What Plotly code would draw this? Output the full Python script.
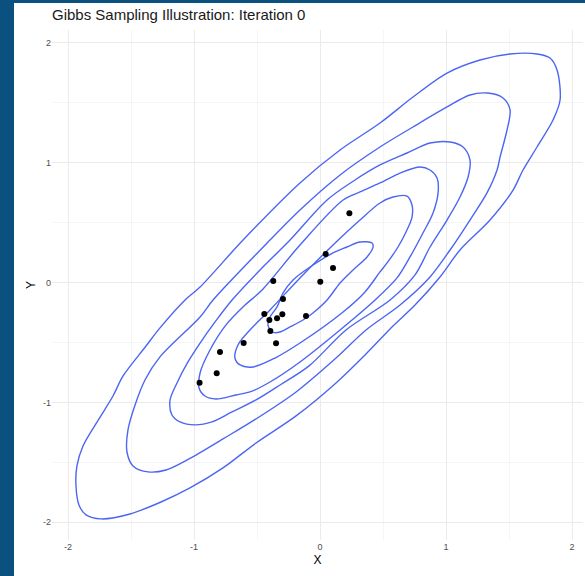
import plotly.graph_objects as go

# ---- data ----
pts_x = [0.233, 0.045, 0.103, -0.371, 0.002, -0.294, -0.442, -0.299, -0.341, -0.402,
         -0.111, -0.394, -0.606, -0.349, -0.794, -0.820, -0.956]
pts_y = [0.577, 0.238, 0.121, 0.013, 0.007, -0.138, -0.263, -0.265, -0.299, -0.313,
         -0.279, -0.405, -0.505, -0.507, -0.580, -0.757, -0.836]

c1_x = [0.476, 0.738, 1.008, 1.270, 1.508, 1.722, 1.825, 1.881, 1.905, 1.849, 1.722, 1.611, 1.532, 1.349, 1.111,
        0.952, 0.754, 0.579, 0.357, 0.127, -0.190, -0.508, -0.770, -1.032, -1.262, -1.508, -1.738, -1.857, -1.913,
        -1.937, -1.929, -1.881, -1.754, -1.643, -1.563, -1.381, -1.270, -1.071, -0.952, -0.611, -0.159, 0.159, 0.476]
c1_y = [1.330, 1.547, 1.747, 1.856, 1.906, 1.906, 1.872, 1.772, 1.522, 1.355, 1.130, 0.938, 0.771, 0.521, 0.271,
        0.046, -0.188, -0.363, -0.605, -0.838, -1.113, -1.339, -1.547, -1.714, -1.831, -1.931, -1.972, -1.939, -1.856,
        -1.689, -1.530, -1.364, -1.138, -0.947, -0.780, -0.530, -0.379, -0.146, -0.038, 0.354, 0.830, 1.105, 1.330]

c2_x = [0.476, 0.738, 1.008, 1.190, 1.333, 1.452, 1.508, 1.484, 1.429, 1.405, 1.325, 1.190, 1.032, 0.873, 0.635,
        0.365, 0.127, -0.190, -0.508, -0.770, -1.040, -1.222, -1.365, -1.484, -1.532, -1.524, -1.468, -1.389, -1.270,
        -0.952, -0.849, -0.397, -0.159, 0.159, 0.476]
c2_y = [1.130, 1.297, 1.464, 1.564, 1.580, 1.539, 1.439, 1.272, 1.047, 0.938, 0.747, 0.521, 0.271, 0.046, -0.188,
        -0.396, -0.630, -0.913, -1.138, -1.305, -1.472, -1.564, -1.580, -1.530, -1.414, -1.230, -1.022, -0.813, -0.621,
        -0.288, -0.146, 0.354, 0.605, 0.897, 1.130]

c3_x = [0.476, 0.690, 0.873, 1.032, 1.135, 1.190, 1.175, 1.111, 1.008, 0.873, 0.754, 0.556, 0.206, -0.087, -0.317,
        -0.508, -0.698, -0.857, -0.992, -1.111, -1.175, -1.190, -1.135, -1.048, -0.952, -0.833, -0.698, -0.476, -0.238,
        0.056, 0.278, 0.476]
c3_y = [0.980, 1.080, 1.163, 1.172, 1.130, 1.022, 0.880, 0.713, 0.521, 0.296, 0.063, -0.146, -0.396, -0.696, -0.855,
        -0.980, -1.080, -1.163, -1.188, -1.163, -1.105, -0.980, -0.838, -0.663, -0.505, -0.329, -0.146, 0.104, 0.354,
        0.688, 0.855, 0.980]

c4_x = [0.476, 0.635, 0.794, 0.873, 0.929, 0.937, 0.897, 0.817, 0.714, 0.611, 0.437, 0.159, -0.159, -0.397, -0.556,
        -0.667, -0.825, -0.913, -0.960, -0.952, -0.873, -0.746, -0.595, -0.460, -0.159, 0.183, 0.317, 0.476]
c4_y = [0.830, 0.913, 0.963, 0.938, 0.872, 0.747, 0.580, 0.413, 0.213, 0.038, -0.146, -0.396, -0.663, -0.830, -0.913,
        -0.938, -0.972, -0.947, -0.880, -0.755, -0.563, -0.354, -0.188, -0.063, 0.313, 0.688, 0.755, 0.830]

c5_x = [0.476, 0.579, 0.690, 0.730, 0.730, 0.690, 0.619, 0.532, 0.476, 0.357, 0.183, -0.159, -0.357, -0.532, -0.635,
        -0.675, -0.651, -0.556, -0.397, -0.159, 0.079, 0.317, 0.476]
c5_y = [0.663, 0.713, 0.721, 0.646, 0.546, 0.438, 0.296, 0.163, 0.088, -0.079, -0.246, -0.505, -0.630, -0.705, -0.688,
        -0.630, -0.521, -0.396, -0.229, 0.038, 0.288, 0.521, 0.663]

c6_x = [0.413, 0.317, 0.214, 0.103, -0.079, -0.214, -0.294, -0.341, -0.397, -0.413, -0.381, -0.317, -0.238, -0.135,
        -0.056, 0.056, 0.159, 0.262, 0.373, 0.421, 0.413]
c6_y = [0.329, 0.338, 0.296, 0.246, 0.129, 0.021, -0.088, -0.204, -0.288, -0.354, -0.413, -0.413, -0.371, -0.313,
        -0.254, -0.146, -0.004, 0.104, 0.213, 0.296, 0.329]

contours = [(c1_x, c1_y), (c2_x, c2_y), (c3_x, c3_y), (c4_x, c4_y), (c5_x, c5_y), (c6_x, c6_y)]

tick_vals = [-2, -1, 0, 1, 2]
tick_text = ["-2", "-1", "0", "1", "2"]

title_text = "Gibbs Sampling Illustration: Iteration 0"

# ---- figure ----
fig = go.Figure()
for cx, cy in contours:
    fig.add_trace(go.Scatter(x=cx, y=cy, mode="lines",
                             line=dict(color="#4c66f2", width=1.4, shape="spline", smoothing=0.9),
                             hoverinfo="skip", showlegend=False))

fig.add_trace(go.Scatter(x=pts_x, y=pts_y, mode="markers",
                         marker=dict(color="black", size=6), showlegend=False))

W, H = 585, 576
ml, mr, mt, mb = 52, 2, 30, 36
pw, ph = W - ml - mr, H - mt - mb

def px2paper_x(px):
    return (px - ml) / pw

def px2paper_y(py):
    return (H - mb - py) / ph

strip = "#0b5180"
fig.add_shape(type="rect", xref="paper", yref="paper",
              x0=px2paper_x(-10), x1=px2paper_x(14), y0=px2paper_y(H + 10), y1=px2paper_y(-10),
              fillcolor=strip, line=dict(width=0), layer="above")
fig.add_shape(type="rect", xref="paper", yref="paper",
              x0=px2paper_x(-10), x1=px2paper_x(W + 10), y0=px2paper_y(3), y1=px2paper_y(-10),
              fillcolor=strip, line=dict(width=0), layer="above")

axis_common = dict(
    showgrid=True, gridcolor="#ebebeb", gridwidth=1.1,
    zeroline=False, showline=False, ticks="",
    tickfont=dict(size=9, color="#4d4d4d", family="Liberation Sans"),
    minor=dict(dtick=0.5, showgrid=True, gridcolor="#f5f5f5", gridwidth=0.6),
)

fig.update_layout(
    width=W, height=H,
    margin=dict(l=ml, r=mr, t=mt, b=mb),
    paper_bgcolor="white", plot_bgcolor="white",
    font=dict(family="Liberation Sans", color="#000000"),
    title=dict(text=title_text, x=0, xref="paper", xanchor="left",
               y=1 - 15 / H, yref="container", yanchor="middle",
               font=dict(size=15, color="#1a1a1a", family="Liberation Sans")),
    xaxis=dict(range=[-2.127, 2.087], tickvals=tick_vals, ticktext=tick_text,
               title=dict(text="X", font=dict(size=12, color="#000"), standoff=4), **axis_common),
    yaxis=dict(range=[-2.148, 2.106], tickvals=tick_vals, ticktext=tick_text,
               title=dict(text="Y", font=dict(size=12, color="#000"), standoff=4), **axis_common),
)

fig.write_html("out.html")
